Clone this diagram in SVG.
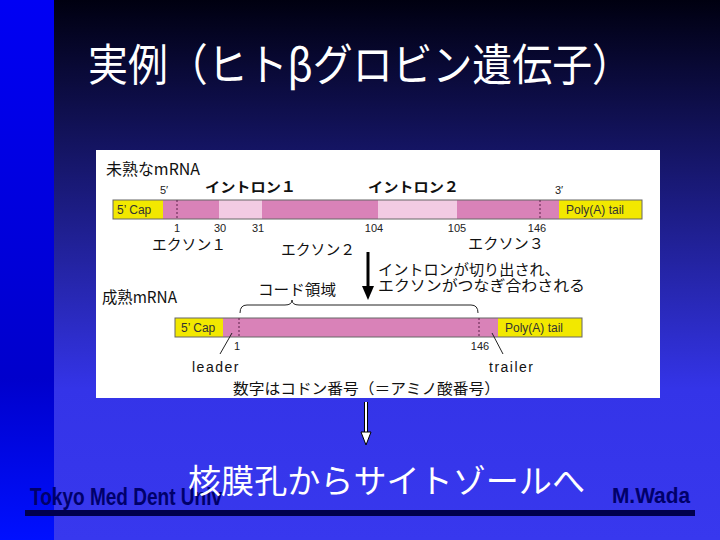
<svg xmlns="http://www.w3.org/2000/svg" width="720" height="540" viewBox="0 0 720 540">
<defs>
<linearGradient id="bg" x1="0" y1="0" x2="0" y2="1">
<stop offset="0" stop-color="#000010"/>
<stop offset="0.3" stop-color="#16166a"/>
<stop offset="0.72" stop-color="#3434e8"/>
<stop offset="1" stop-color="#3838ee"/>
</linearGradient>
<linearGradient id="lb" x1="0" y1="0" x2="0" y2="1">
<stop offset="0" stop-color="#0000f4"/>
<stop offset="0.7" stop-color="#0000cc"/>
<stop offset="1" stop-color="#0010ff"/>
</linearGradient>
<style>
.jp{font-family:"Noto Sans CJK JP","Noto Sans",sans-serif;fill:#111}
.num{font-family:"Liberation Sans",sans-serif;font-size:11px;fill:#222;text-anchor:middle}
.bx{font-family:"Liberation Sans",sans-serif;font-size:12px;fill:#333}
.en{font-family:"Liberation Sans",sans-serif;font-size:14px;fill:#111;letter-spacing:1.5px}
.bar{stroke:#666;stroke-width:1}
.pink{fill:#d982b8}
.lpink{fill:#f2cbe3}
.yel{fill:#f2e800}
.dot{stroke:#5a2048;stroke-width:1;stroke-dasharray:2,2}
.thin{stroke:#222;stroke-width:1;fill:none}
</style>
</defs>
<rect width="720" height="540" fill="url(#bg)"/>
<rect x="0" y="0" width="54" height="540" fill="url(#lb)"/>
<g id="title">
<text x="88" y="81" font-family="Noto Sans CJK JP,sans-serif" font-size="44" fill="#fff" textLength="544" lengthAdjust="spacingAndGlyphs">実例（ヒトβグロビン遺伝子）</text>
</g>
<g id="panel">
<rect x="96" y="150" width="564" height="248" fill="#fff"/>
</g>
<g id="immature">
<text class="jp" x="106" y="175" font-size="16" textLength="94" lengthAdjust="spacingAndGlyphs">未熟なmRNA</text>
<text class="num" x="164" y="194">5′</text>
<text class="num" x="559" y="194">3′</text>
<text class="jp" x="205" y="192" font-size="14" font-weight="bold" textLength="91" lengthAdjust="spacingAndGlyphs">イントロン１</text>
<text class="jp" x="368" y="192" font-size="14" font-weight="bold" textLength="91" lengthAdjust="spacingAndGlyphs">イントロン２</text>
<rect class="yel" x="113" y="200" width="50" height="19"/>
<rect class="pink" x="163" y="200" width="56" height="19"/>
<rect class="lpink" x="219" y="200" width="43" height="19"/>
<rect class="pink" x="262" y="200" width="116" height="19"/>
<rect class="lpink" x="378" y="200" width="79" height="19"/>
<rect class="pink" x="457" y="200" width="102" height="19"/>
<rect class="yel" x="559" y="200" width="83" height="19"/>
<rect class="bar" x="113" y="200" width="529" height="19" fill="none"/>
<line class="dot" x1="177" y1="200" x2="177" y2="219"/>
<line class="dot" x1="540" y1="200" x2="540" y2="219"/>
<text class="bx" x="117" y="214">5’ Cap</text>
<text class="bx" x="566" y="214">Poly(A) tail</text>
<text class="num" x="177" y="232">1</text>
<text class="num" x="220" y="232">30</text>
<text class="num" x="258" y="232">31</text>
<text class="num" x="374" y="232">104</text>
<text class="num" x="457" y="232">105</text>
<text class="num" x="537" y="232">146</text>
<text class="jp" x="152" y="250" font-size="15" textLength="74" lengthAdjust="spacingAndGlyphs">エクソン１</text>
<text class="jp" x="281" y="255" font-size="15" textLength="74" lengthAdjust="spacingAndGlyphs">エクソン２</text>
<text class="jp" x="468" y="249" font-size="15" textLength="76" lengthAdjust="spacingAndGlyphs">エクソン３</text>
</g>
<g id="splice-note">
<text class="jp" x="378" y="275" font-size="15" textLength="182" lengthAdjust="spacingAndGlyphs">イントロンが切り出され、</text>
<text class="jp" x="378" y="291" font-size="15" textLength="207" lengthAdjust="spacingAndGlyphs">エクソンがつなぎ合わされる</text>
</g>
<g id="mature">
<text class="jp" x="102" y="303" font-size="16" textLength="75" lengthAdjust="spacingAndGlyphs">成熟mRNA</text>
<text class="jp" x="258" y="295" font-size="15" textLength="78" lengthAdjust="spacingAndGlyphs">コード領域</text>
<path class="thin" d="M240,313 Q240,305 247,305 L285,305 Q292,305 292,300 Q292,305 299,305 L471,305 Q478,305 478,313"/>
<rect class="yel" x="175" y="318" width="48" height="19"/>
<rect class="pink" x="223" y="318" width="275" height="19"/>
<rect class="yel" x="498" y="318" width="84" height="19"/>
<rect class="bar" x="175" y="318" width="407" height="19" fill="none"/>
<line class="dot" x1="239" y1="318" x2="239" y2="337"/>
<line class="dot" x1="479" y1="318" x2="479" y2="337"/>
<text class="bx" x="181" y="332">5’ Cap</text>
<text class="bx" x="505" y="332">Poly(A) tail</text>
<text class="num" x="237" y="350">1</text>
<text class="num" x="480" y="350">146</text>
<line class="thin" x1="232" y1="333" x2="220" y2="354"/>
<line class="thin" x1="492" y1="333" x2="503" y2="354"/>
<text class="en" x="192" y="372">leader</text>
<text class="en" x="489" y="372">trailer</text>
<text class="jp" x="233" y="394" font-size="15" textLength="267" lengthAdjust="spacingAndGlyphs">数字はコドン番号（＝アミノ酸番号）</text>
</g>
<g id="connectors">
<line x1="368" y1="252" x2="368" y2="288" stroke="#000" stroke-width="3"/>
<path d="M362,286 L374,286 L368,300 Z" fill="#000"/>
<line x1="366" y1="402" x2="366" y2="433" stroke="#000" stroke-width="4"/>
<line x1="366" y1="402" x2="366" y2="433" stroke="#fff" stroke-width="2"/>
<path d="M361,432 L371,432 L366,445 Z" fill="#fff" stroke="#000" stroke-width="1"/>
</g>
<g id="footer">
<text x="30" y="505" font-family="Liberation Sans Narrow,Liberation Sans,sans-serif" font-size="24" font-weight="bold" fill="#00006a" textLength="192" lengthAdjust="spacingAndGlyphs">Tokyo Med Dent Univ</text>
<text x="612" y="503" font-family="Liberation Sans Narrow,Liberation Sans,sans-serif" font-size="22" font-weight="bold" fill="#00006a" textLength="78" lengthAdjust="spacingAndGlyphs">M.Wada</text>
<rect x="25" y="510" width="670" height="6" fill="#00004e"/>
<text x="188" y="493" font-family="Noto Sans CJK JP,sans-serif" font-size="33" fill="#fff" textLength="397" lengthAdjust="spacingAndGlyphs">核膜孔からサイトゾールへ</text>
</g>
</svg>
